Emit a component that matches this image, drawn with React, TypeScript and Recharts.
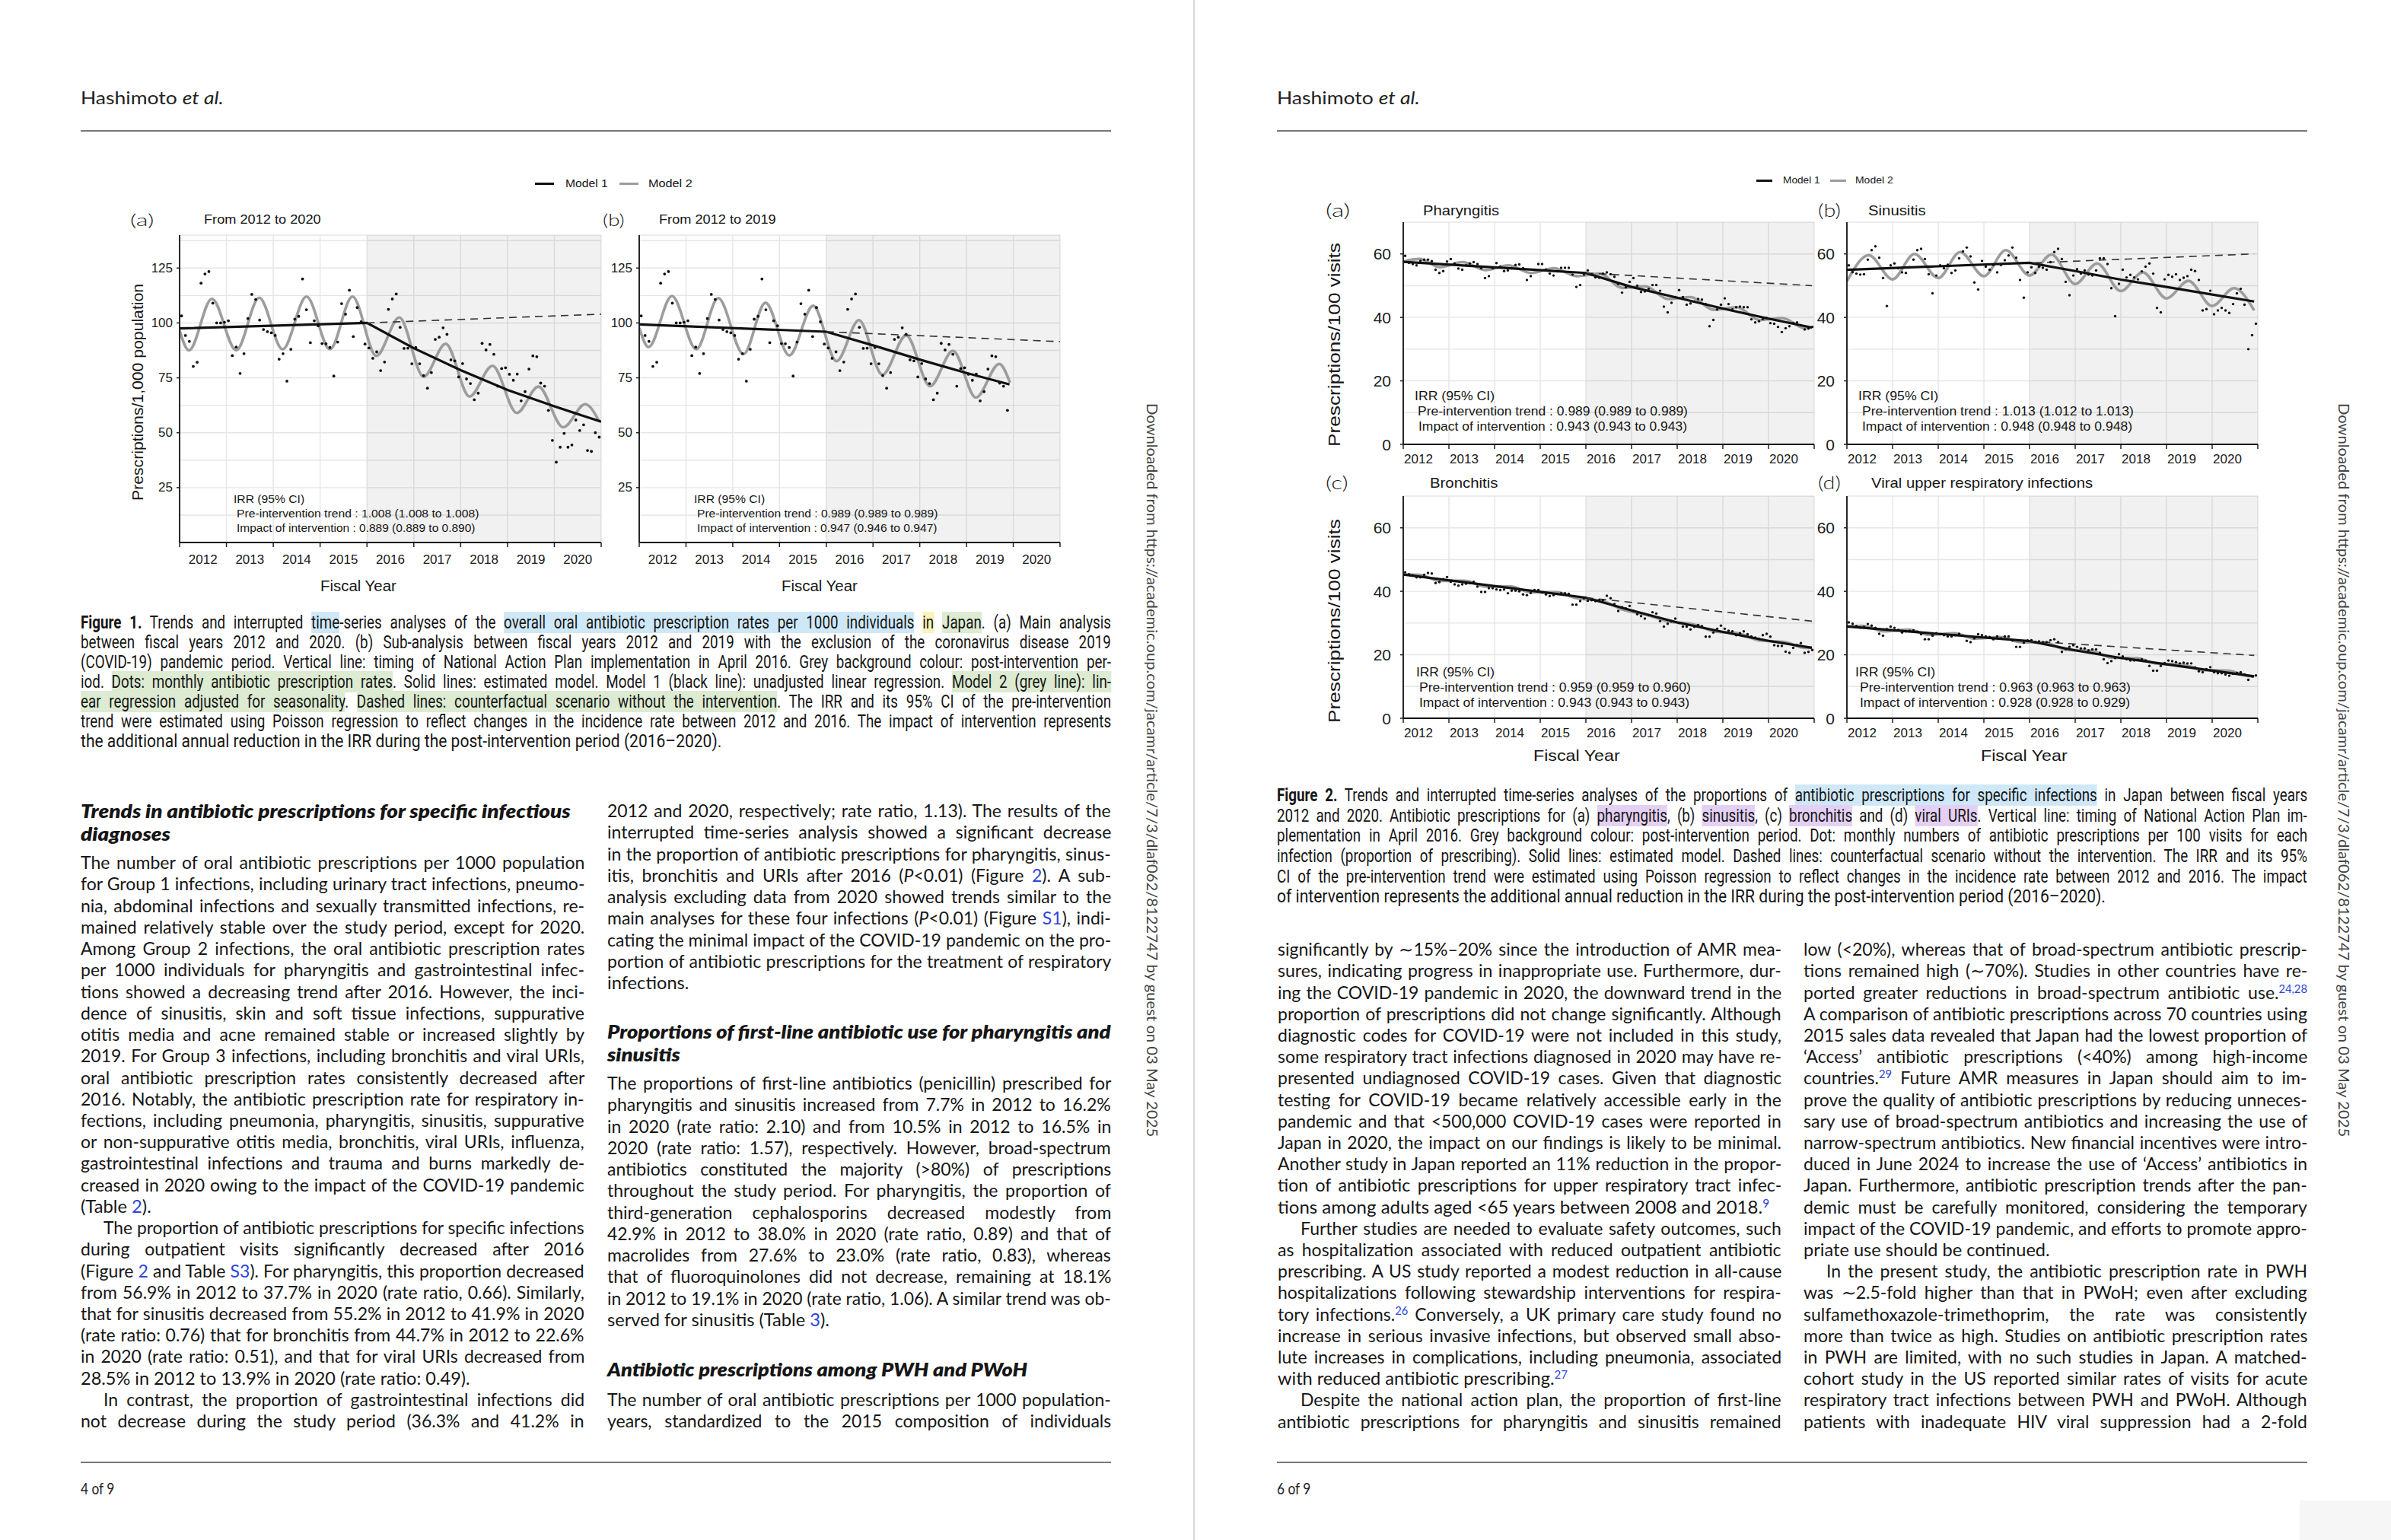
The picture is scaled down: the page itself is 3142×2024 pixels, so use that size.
import React, { useLayoutEffect, useRef, useState } from 'react';
import { ComposedChart, Scatter, Line, XAxis, YAxis, CartesianGrid, ReferenceArea } from 'recharts';

// ---- data ----
const yearTicks = [2012, 2013, 2014, 2015, 2016, 2017, 2018, 2019, 2020, 2021];
const rateTicks = [0, 12.5, 25, 37.5, 50, 62.5, 75, 87.5, 100, 112.5, 125, 137.5];
const rateLabels = [25, 50, 75, 100, 125];
const pctTicks = [0, 10, 20, 30, 40, 50, 60, 70];
const pctLabels = [0, 20, 40, 60];

// Figure 1: monthly oral antibiotic prescriptions per 1000 population (FY2012 Apr .. FY2020 Mar)
const overallRate = [
  103.2, 94.3, 91.6, 80.2, 82.1, 118.1, 122.3, 123.4, 109, 100, 100, 100.3,
  101, 85.1, 89, 77, 86, 102, 113, 110.7, 101.3, 97, 96, 95.5,
  94.3, 83.5, 86, 73.5, 88, 101.7, 103, 120, 106, 91, 101, 98.7,
  90.6, 90.5, 88.8, 75.8, 91.3, 108.8, 104, 114.9, 93.8, 107, 100.5, 90.4,
  88.6, 83.9, 86.8, 78.3, 82.2, 106.2, 110.9, 113.2, 98, 88.4, 88.5, 81.4,
  88.8, 81.4, 76, 70.3, 77.4, 92.5, 93.5, 97.8, 94.8, 83.2, 82.7, 75.4,
  81.5, 74.5, 72.4, 65, 68, 90.7, 87.7, 90.2, 85.7, 71.2, 79.2, 79.6,
  76.6, 73.9, 76.7, 64.5, 68.7, 79, 85, 84.6, 72.6, 71.2, 60.2, 46.5,
  36.6, 43.4, 49.7, 43.4, 44.4, 55.8, 51, 53.6, 41.9, 41.5, 50, 48,
];
const mainModel1 = [[2012, 97.5], [2016, 100], [2017, 88.5], [2018, 78.5], [2019, 69.5], [2020, 62], [2021, 55]];
const mainCounterfactual = [[2016, 100], [2021, 104]];
const mainModel2 = [
  [2012.0, 96.5], [2012.2, 87.5], [2012.69, 111], [2013.21, 87.5], [2013.7, 111.5], [2014.2, 88], [2014.71, 112],
  [2015.21, 88], [2015.69, 112], [2016.2, 85], [2016.69, 102.5], [2017.21, 75.5], [2017.68, 90.5], [2018.19, 66.5],
  [2018.68, 80.5], [2019.2, 59], [2019.66, 71], [2020.19, 52.5], [2020.66, 63], [2020.95, 55.5],
];
const subModel1 = [[2012, 99.3], [2016, 96], [2017, 89.8], [2018, 83.3], [2019, 77.2], [2019.92, 72]];
const subCounterfactual = [[2016, 96], [2021, 91.5]];
const subModel2 = [
  [2012.0, 97.8], [2012.2, 89], [2012.7, 112.3], [2013.22, 88], [2013.69, 111.3], [2014.23, 85.8], [2014.7, 109.2],
  [2015.21, 85.2], [2015.72, 107.8], [2016.22, 82.6], [2016.7, 101.3], [2017.2, 76.4], [2017.71, 94.3], [2018.22, 71.2],
  [2018.71, 87.3], [2019.2, 66], [2019.7, 81.3], [2019.93, 72.8],
];

// Figure 2: prescriptions per 100 visits
const pharyngitisPct = [
  59.4, 57.2, 56.8, 56.4, 57.8, 58.2, 58.2, 57.7, 55, 54, 54.6, 57.6,
  58.4, 57, 55.4, 55, 56.4, 57, 57.4, 56.8, 55.5, 52.4, 53, 55.5,
  57.1, 56, 54.6, 54.8, 55.5, 56.5, 56.7, 55.5, 51.8, 53, 55, 56.8,
  56.8, 55, 53.8, 53.2, 54.5, 55.6, 55.6, 55.6, 53.5, 49.6, 50.2, 53.5,
  54.8, 53.5, 52.6, 52.5, 53.8, 54.2, 53.6, 52.8, 50.5, 47.8, 49.5, 51.2,
  52.4, 50, 48, 48.2, 49, 50.2, 50.2, 48.4, 43.4, 41.6, 44.6, 46.4,
  48.6, 46.4, 44, 44.4, 45, 45.8, 45.6, 44.2, 37.2, 39.2, 42.5, 44,
  46, 44.2, 42.5, 43.2, 43.4, 43.2, 43.2, 39.4, 38.4, 38.8, 39.5, 39.8,
  38.2, 38, 37, 35.4, 36.6, 37.2, 38.2, 38.4, 37.5, 36.2, 36.5, 37,
];
const pharyngitisModel1 = [[2012, 57.5], [2016, 54], [2017, 49.6], [2018, 46.2], [2019, 42.8], [2020, 39.6], [2020.95, 36.8]];
const pharyngitisCf = [[2016, 54], [2020.95, 50]];
const pharyngitisModel2 = [
  [2012.0, 57.6], [2012.35, 58.4], [2012.8, 55.8], [2013.3, 57.4], [2013.8, 54.9], [2014.3, 56.4], [2014.8, 54],
  [2015.3, 55.5], [2015.8, 53], [2016.3, 53.8], [2016.8, 49.3], [2017.3, 49.8], [2017.8, 45.8], [2018.3, 46.4],
  [2018.8, 42.4], [2019.3, 43.2], [2019.8, 39.2], [2020.3, 39.8], [2020.8, 36.6], [2020.95, 37],
];

const sinusitisPct = [
  56.4, 54.3, 53.8, 53.5, 53.6, 58.2, 61.2, 62.4, 58.8, 52.4, 43.6, 56.4,
  57, 55.5, 54.2, 54, 55.8, 58.2, 61.2, 61.6, 58.4, 53.6, 47.6, 53.2,
  56.4, 55.5, 56.6, 54, 54.8, 58.6, 60.8, 62, 59.2, 51, 48.8, 57.8,
  56, 55, 56.5, 54.2, 56.5, 58, 59.5, 62, 58.8, 51.8, 46.2, 54.2,
  55.8, 54, 56, 55.6, 55, 57.4, 60.6, 61.6, 58.4, 51.2, 47, 53.2,
  55.2, 53.8, 54.8, 53.5, 53.2, 54.8, 58.6, 58.6, 56.8, 49.2, 40.4, 50.6,
  55, 52.6, 53.4, 52.6, 52, 54.5, 56, 57, 53.8, 43, 41.6, 52,
  53.4, 52.8, 53.6, 51.8, 52.5, 53, 55, 54.6, 51.8, 42.2, 42.6, 48.4,
  41, 42.2, 43, 42.2, 41.4, 44.2, 47.6, 49, 44, 30, 34.4, 38,
];
const sinusitisModel1 = [[2012, 55], [2016, 57.2], [2017, 54.6], [2018, 51.9], [2019, 49.6], [2020, 47.2], [2020.92, 45]];
const sinusitisCf = [[2016.1, 57.2], [2020.92, 60]];
const sinusitisModel2 = [
  [2012.0, 51.4], [2012.48, 59.6], [2013.0, 52], [2013.48, 60], [2014.0, 52.4], [2014.48, 60.6], [2015.0, 53],
  [2015.48, 61.2], [2016.0, 53.2], [2016.48, 59.8], [2017.0, 50.5], [2017.48, 57], [2018.0, 48.3], [2018.48, 54.2],
  [2019.0, 46], [2019.48, 51.5], [2020.0, 43.6], [2020.48, 49.2], [2020.92, 42.2],
];

const bronchitisPct = [
  46, 45.4, 45, 44.4, 44.4, 45.2, 45.8, 45.6, 42.6, 42.9, 43.8, 44.5,
  43, 42.2, 41.8, 42.2, 42.4, 42.6, 43, 41.5, 39.8, 39.8, 41, 41,
  40.6, 40.4, 40.6, 39.4, 40.2, 40.2, 40, 39, 38.8, 39.5, 40.4, 40.4,
  39.6, 39, 38.5, 38.8, 39.2, 39.4, 39.4, 39.2, 35.8, 35.8, 36.9, 37.8,
  37, 37.2, 36.9, 37.2, 37.2, 38.6, 37.8, 36, 33.8, 35, 34.6, 35.4,
  33.8, 32.8, 32.2, 31.4, 32.5, 33.4, 33, 30.6, 28.9, 29.8, 30.5, 31.4,
  30, 28.9, 28.9, 28, 28.8, 29.4, 29, 25.7, 25.7, 27, 28.2, 29.2,
  28.2, 27.6, 27.4, 26.2, 26.8, 27.4, 26.5, 25.8, 25.4, 25, 26.2, 26.6,
  25.7, 23, 22.8, 22.8, 21, 20.6, 22.2, 23, 23.7, 20.6, 20.9, 21.5,
];
const bronchitisModel1 = [[2012, 45.3], [2016, 38], [2017, 34], [2018, 30.2], [2019, 27.2], [2020, 24.4], [2020.95, 22.2]];
const bronchitisCf = [[2016, 38], [2020.95, 30.6]];
const bronchitisModel2 = [
  [2012.0, 45.3], [2012.35, 45.2], [2012.8, 43.3], [2013.35, 43.3], [2013.8, 41.5], [2014.35, 41.5], [2014.8, 39.7],
  [2015.35, 39.7], [2015.8, 37.8], [2016.35, 37], [2016.8, 34.3], [2017.35, 32.5], [2017.8, 30.5], [2018.35, 29.6],
  [2018.8, 27.4], [2019.35, 26.7], [2019.8, 24.5], [2020.35, 24], [2020.8, 22.2], [2020.95, 22.2],
];

const viralUriPct = [
  30.2, 29.8, 29, 28.6, 28.8, 29.7, 29.2, 28.5, 26.6, 26, 28.1, 28.9,
  28.5, 27.8, 27, 27.4, 27.5, 27.7, 27.3, 26.5, 24.9, 24.9, 26, 26.8,
  26.5, 26.2, 25.8, 25.8, 26.2, 26.6, 26, 24.4, 24, 25.2, 26.5, 26.2,
  25.8, 25.6, 24.9, 25.8, 25.2, 25.8, 25.8, 24.5, 22.5, 22.5, 23.8, 24.5,
  24.6, 24, 24.2, 24, 24, 24.6, 24.9, 24, 20.9, 21.8, 22.5, 23,
  22.5, 22, 22, 21.4, 21.7, 21.7, 20.6, 18.6, 17.4, 18, 19, 20.2,
  19.5, 18.6, 18.2, 18.2, 18.4, 18.6, 18.2, 16.5, 15, 15, 16.5, 17.4,
  18.2, 18, 17.7, 17.3, 17.5, 17.3, 17.3, 16, 14.8, 14.5, 15.5, 16.1,
  14.5, 14.2, 14.2, 13.8, 13.4, 14, 14.3, 14.5, 13.8, 12.1, 13.2, 13.5,
];
const viralUriModel1 = [[2012, 28.9], [2016, 24.3], [2017, 21.4], [2018, 19], [2019, 17], [2020, 15], [2020.92, 13.2]];
const viralUriCf = [[2016, 24.3], [2020.92, 19.8]];
const viralUriModel2 = [
  [2012.0, 28.9], [2012.35, 29.1], [2012.8, 27.4], [2013.35, 27.9], [2013.8, 26.3], [2014.35, 26.8], [2014.8, 25.1],
  [2015.35, 25.6], [2015.8, 24], [2016.35, 23.8], [2016.8, 21.6], [2017.35, 21.2], [2017.8, 19.1], [2018.35, 18.9],
  [2018.8, 17.2], [2019.35, 16.9], [2019.8, 15.2], [2020.35, 15], [2020.8, 13.3], [2020.92, 13.2],
];

// ---- helpers ----
type Pt = { x: number; y: number };
const pts = (pairs: number[][]): Pt[] => pairs.map(([x, y]) => ({ x, y }));
const monthly = (vals: number[]): Pt[] => vals.map((y, i) => ({ x: 2012 + (i + 0.5) / 12, y }));

const BODY = "Lato, 'Open Sans', sans-serif";
const CAP = "Roboto, Lato, sans-serif";
const CHART = "'Liberation Sans', Arial, sans-serif";
const LINK = '#2a45dc';
const HL: Record<string, string> = { b: '#cfe8f7', y: '#fbf3b8', g: '#dcebd1', p: '#e4d0f4' };

function rich(s: string) {
  const parts = s.split(/(\*\*[^*]+\*\*|\{[^}]+\}|\^[^^]+\^|\|[^|]+\||\[[bygp]:[^\]]+\])/g);
  return parts.filter(Boolean).map((p, i) => {
    if (p.startsWith('**')) return <b key={i}>{p.slice(2, -2)}</b>;
    if (p.startsWith('{')) return <span key={i} style={{ color: LINK }}>{p.slice(1, -1)}</span>;
    if (p.startsWith('^')) return <span key={i} style={{ color: LINK, fontSize: '0.64em', position: 'relative', top: '-0.55em' }}>{p.slice(1, -1)}</span>;
    if (p.startsWith('|')) return <i key={i}>{p.slice(1, -1)}</i>;
    if (p.startsWith('[')) return <span key={i} style={{ background: HL[p[1]] }}>{p.slice(3, -1)}</span>;
    return <React.Fragment key={i}>{p}</React.Fragment>;
  });
}

type TL = {
  t: string; x: number; y: number; w?: number; mode?: 'j' | 'fit' | 'free';
  size: number; font: string; weight?: number; italic?: boolean; cond?: number; color?: string;
};

function TextLine({ l }: { l: TL }) {
  const ref = useRef<HTMLSpanElement>(null);
  const [adj, setAdj] = useState({ ws: 0, sx: 1 });
  useLayoutEffect(() => {
    const el = ref.current;
    if (!el) return;
    const nat = el.offsetWidth;
    if (!nat) return;
    const spaces = (el.textContent || '').split(' ').length - 1;
    const c = l.cond ?? 1;
    const w = l.w ?? nat * c;
    let ws = 0;
    let sx = c;
    if (l.mode === 'fit') sx = w / nat;
    else if (l.mode === 'j') {
      if (nat * c <= w && spaces > 0) ws = (w / c - nat) / spaces;
      else sx = w / nat;
    } else if (nat * c > w) sx = w / nat;
    setAdj({ ws, sx });
  }, [l.t, l.w]);
  return (
    <div
      style={{
        position: 'absolute', left: l.x, top: l.y - l.size * 0.6, height: l.size * 1.2,
        lineHeight: `${l.size * 1.2}px`, whiteSpace: 'nowrap', fontSize: l.size, fontFamily: l.font,
        fontWeight: l.weight ?? 400, fontStyle: l.italic ? 'italic' : 'normal', color: l.color ?? '#161616',
        transform: `scaleX(${adj.sx})`, transformOrigin: 'left center',
      }}
    >
      <span ref={ref} style={{ display: 'inline-block', wordSpacing: adj.ws }}>{rich(l.t)}</span>
    </div>
  );
}

function Rot({ cx, cy, deg, len, l }: { cx: number; cy: number; deg: number; len: number; l: Omit<TL, 'x' | 'y'> }) {
  return (
    <div style={{ position: 'absolute', left: cx, top: cy, transform: `rotate(${deg}deg)`, transformOrigin: '0 0' }}>
      <TextLine l={{ ...l, x: -len / 2, y: 0, w: len, mode: 'fit' } as TL} />
    </div>
  );
}

function para(lines: (string | [string, number])[], x: number, y0: number, lh: number, w: number, base: Partial<TL>): TL[] {
  return lines.map((ln, i) => {
    const fixed = Array.isArray(ln);
    let t = fixed ? (ln as [string, number])[0] : (ln as string);
    let dx = 0;
    if (t.startsWith('»')) { t = t.slice(1); dx = 30; }
    return { ...base, t, x: x + dx, y: y0 + i * lh, w: fixed ? (ln as [string, number])[1] : w - dx, mode: fixed ? 'fit' : 'j' } as TL;
  });
}

type PanelProps = {
  px: number; py: number; pw: number; ph: number; yMax: number; yTicks: number[]; yLabels: number[];
  dots: Pt[]; m1: Pt[]; m2: Pt[]; cf: Pt[]; xFs: number; yFs: number; xDx: number; xDy: number; yGap: number; r: number;
};

function Panel(p: PanelProps) {
  const YW = 70, MR = 6, MT = 4, XH = 46;
  const half = p.pw / 18;
  const axisY = MT + p.ph;
  const XTick = (t: any) => {
    const v = t.payload.value;
    if (v >= 2021) return <g />;
    return (
      <text x={t.x + half + p.xDx} y={axisY + p.xDy} textAnchor="middle" dominantBaseline="central"
        fontSize={p.xFs} fontFamily={CHART} fill="#1a1a1a">{v}</text>
    );
  };
  const YTick = (t: any) => {
    const v = t.payload.value;
    if (!p.yLabels.includes(v)) return <g />;
    return (
      <g>
        <line x1={YW - 4} x2={YW} y1={t.y} y2={t.y} stroke="#222" strokeWidth={1.5} />
        <text x={YW - p.yGap} y={t.y} textAnchor="end" dominantBaseline="central" fontSize={p.yFs}
          fontFamily={CHART} fill="#1a1a1a">{v}</text>
      </g>
    );
  };
  return (
    <div style={{ position: 'absolute', left: p.px - YW, top: p.py - MT }}>
      <ComposedChart width={YW + p.pw + MR} height={MT + p.ph + XH} margin={{ top: MT, right: MR, bottom: 0, left: 0 }}>
        <CartesianGrid stroke="#e6e6e6" strokeWidth={1.4} />
        <ReferenceArea x1={2016} x2={2021} y1={0} y2={p.yMax} fill="#000" fillOpacity={0.055} stroke="none" ifOverflow="hidden" />
        <XAxis type="number" dataKey="x" domain={[2012, 2021]} ticks={yearTicks} interval={0} height={XH}
          tick={XTick} tickSize={6} tickLine={{ stroke: '#222', strokeWidth: 1.5 }}
          axisLine={{ stroke: '#111', strokeWidth: 1.8 }} allowDataOverflow />
        <YAxis type="number" dataKey="y" domain={[0, p.yMax]} ticks={p.yTicks} interval={0} width={YW}
          tick={YTick} tickLine={false} axisLine={{ stroke: '#111', strokeWidth: 1.8 }} allowDataOverflow />
        <Scatter data={p.dots} isAnimationActive={false}
          shape={(s: any) => <circle cx={s.cx} cy={s.cy} r={p.r} fill="#111" />} />
        <Line data={p.m2} dataKey="y" type="monotone" stroke="#9d9d9d" strokeWidth={3.6} dot={false} activeDot={false} isAnimationActive={false} />
        <Line data={p.m1} dataKey="y" type="linear" stroke="#111" strokeWidth={3.2} dot={false} activeDot={false} isAnimationActive={false} />
        <Line data={p.cf} dataKey="y" type="linear" stroke="#333" strokeWidth={1.6} strokeDasharray="10 7" dot={false} activeDot={false} isAnimationActive={false} />
      </ComposedChart>
    </div>
  );
}

// ---- page text ----
const cap1 = [
  '**Figure 1.** Trends and interrupted [b:time]-series analyses of the [b:overall oral antibiotic prescription rates per 1000 individuals] [y:in] [g:Japan]. (a) Main analysis',
  'between fiscal years 2012 and 2020. (b) Sub-analysis between fiscal years 2012 and 2019 with the exclusion of the coronavirus disease 2019',
  '(COVID-19) pandemic period. Vertical line: timing of National Action Plan implementation in April 2016. Grey background colour: post-intervention per-',
  'iod. [g:Dots: monthly antibiotic prescription rates]. Solid lines: estimated model. Model 1 (black line): unadjusted linear regression. [g:Model 2 (grey line): lin-]',
  '[g:ear regression adjusted for seasonality]. [g:Dashed lines: counterfactual scenario without the intervention]. The IRR and its 95% CI of the pre-intervention',
  'trend were estimated using Poisson regression to reflect changes in the incidence rate between 2012 and 2016. The impact of intervention represents',
  ['the additional annual reduction in the IRR during the post-intervention period (2016–2020).', 842] as [string, number],
];
const cap2 = [
  '**Figure 2.** Trends and interrupted time-series analyses of the proportions of [b:antibiotic prescriptions for specific infections] in Japan between fiscal years',
  '2012 and 2020. Antibiotic prescriptions for (a) [p:pharyngitis], (b) [p:sinusitis], (c) [p:bronchitis] and (d) [p:viral URIs]. Vertical line: timing of National Action Plan im-',
  'plementation in April 2016. Grey background colour: post-intervention period. Dot: monthly numbers of antibiotic prescriptions per 100 visits for each',
  'infection (proportion of prescribing). Solid lines: estimated model. Dashed lines: counterfactual scenario without the intervention. The IRR and its 95%',
  'CI of the pre-intervention trend were estimated using Poisson regression to reflect changes in the incidence rate between 2012 and 2016. The impact',
  ['of intervention represents the additional annual reduction in the IRR during the post-intervention period (2016–2020).', 1089] as [string, number],
];
const leftCol1 = [
  'The number of oral antibiotic prescriptions per 1000 population',
  'for Group 1 infections, including urinary tract infections, pneumo-',
  'nia, abdominal infections and sexually transmitted infections, re-',
  'mained relatively stable over the study period, except for 2020.',
  'Among Group 2 infections, the oral antibiotic prescription rates',
  'per 1000 individuals for pharyngitis and gastrointestinal infec-',
  'tions showed a decreasing trend after 2016. However, the inci-',
  'dence of sinusitis, skin and soft tissue infections, suppurative',
  'otitis media and acne remained stable or increased slightly by',
  '2019. For Group 3 infections, including bronchitis and viral URIs,',
  'oral antibiotic prescription rates consistently decreased after',
  '2016. Notably, the antibiotic prescription rate for respiratory in-',
  'fections, including pneumonia, pharyngitis, sinusitis, suppurative',
  'or non-suppurative otitis media, bronchitis, viral URIs, influenza,',
  'gastrointestinal infections and trauma and burns markedly de-',
  'creased in 2020 owing to the impact of the COVID-19 pandemic',
  ['(Table {2}).', 93] as [string, number],
  '»The proportion of antibiotic prescriptions for specific infections',
  'during outpatient visits significantly decreased after 2016',
  '(Figure {2} and Table {S3}). For pharyngitis, this proportion decreased',
  'from 56.9% in 2012 to 37.7% in 2020 (rate ratio, 0.66). Similarly,',
  'that for sinusitis decreased from 55.2% in 2012 to 41.9% in 2020',
  '(rate ratio: 0.76) that for bronchitis from 44.7% in 2012 to 22.6%',
  'in 2020 (rate ratio: 0.51), and that for viral URIs decreased from',
  ['28.5% in 2012 to 13.9% in 2020 (rate ratio: 0.49).', 512] as [string, number],
  '»In contrast, the proportion of gastrointestinal infections did',
  'not decrease during the study period (36.3% and 41.2% in',
];
const leftCol2a = [
  '2012 and 2020, respectively; rate ratio, 1.13). The results of the',
  'interrupted time-series analysis showed a significant decrease',
  'in the proportion of antibiotic prescriptions for pharyngitis, sinus-',
  'itis, bronchitis and URIs after 2016 (|P|<0.01) (Figure {2}). A sub-',
  'analysis excluding data from 2020 showed trends similar to the',
  'main analyses for these four infections (|P|<0.01) (Figure {S1}), indi-',
  'cating the minimal impact of the COVID-19 pandemic on the pro-',
  'portion of antibiotic prescriptions for the treatment of respiratory',
  ['infections.', 107] as [string, number],
];
const leftCol2b = [
  'The proportions of first-line antibiotics (penicillin) prescribed for',
  'pharyngitis and sinusitis increased from 7.7% in 2012 to 16.2%',
  'in 2020 (rate ratio: 2.10) and from 10.5% in 2012 to 16.5% in',
  '2020 (rate ratio: 1.57), respectively. However, broad-spectrum',
  'antibiotics constituted the majority (>80%) of prescriptions',
  'throughout the study period. For pharyngitis, the proportion of',
  'third-generation cephalosporins decreased modestly from',
  '42.9% in 2012 to 38.0% in 2020 (rate ratio, 0.89) and that of',
  'macrolides from 27.6% to 23.0% (rate ratio, 0.83), whereas',
  'that of fluoroquinolones did not decrease, remaining at 18.1%',
  'in 2012 to 19.1% in 2020 (rate ratio, 1.06). A similar trend was ob-',
  ['served for sinusitis (Table {3}).', 292] as [string, number],
];
const leftCol2c = [
  'The number of oral antibiotic prescriptions per 1000 population-',
  'years, standardized to the 2015 composition of individuals',
];
const rightCol1 = [
  'significantly by ∼15%–20% since the introduction of AMR mea-',
  'sures, indicating progress in inappropriate use. Furthermore, dur-',
  'ing the COVID-19 pandemic in 2020, the downward trend in the',
  'proportion of prescriptions did not change significantly. Although',
  'diagnostic codes for COVID-19 were not included in this study,',
  'some respiratory tract infections diagnosed in 2020 may have re-',
  'presented undiagnosed COVID-19 cases. Given that diagnostic',
  'testing for COVID-19 became relatively accessible early in the',
  'pandemic and that <500,000 COVID-19 cases were reported in',
  'Japan in 2020, the impact on our findings is likely to be minimal.',
  'Another study in Japan reported an 11% reduction in the propor-',
  'tion of antibiotic prescriptions for upper respiratory tract infec-',
  ['tions among adults aged <65 years between 2008 and 2018.^9^', 646] as [string, number],
  '»Further studies are needed to evaluate safety outcomes, such',
  'as hospitalization associated with reduced outpatient antibiotic',
  'prescribing. A US study reported a modest reduction in all-cause',
  'hospitalizations following stewardship interventions for respira-',
  'tory infections.^26^ Conversely, a UK primary care study found no',
  'increase in serious invasive infections, but observed small abso-',
  'lute increases in complications, including pneumonia, associated',
  ['with reduced antibiotic prescribing.^27^', 381] as [string, number],
  '»Despite the national action plan, the proportion of first-line',
  'antibiotic prescriptions for pharyngitis and sinusitis remained',
];
const rightCol2 = [
  'low (<20%), whereas that of broad-spectrum antibiotic prescrip-',
  'tions remained high (∼70%). Studies in other countries have re-',
  'ported greater reductions in broad-spectrum antibiotic use.^24,28^',
  'A comparison of antibiotic prescriptions across 70 countries using',
  '2015 sales data revealed that Japan had the lowest proportion of',
  '‘Access’ antibiotic prescriptions (<40%) among high-income',
  'countries.^29^ Future AMR measures in Japan should aim to im-',
  'prove the quality of antibiotic prescriptions by reducing unneces-',
  'sary use of broad-spectrum antibiotics and increasing the use of',
  'narrow-spectrum antibiotics. New financial incentives were intro-',
  'duced in June 2024 to increase the use of ‘Access’ antibiotics in',
  'Japan. Furthermore, antibiotic prescription trends after the pan-',
  'demic must be carefully monitored, considering the temporary',
  'impact of the COVID-19 pandemic, and efforts to promote appro-',
  ['priate use should be continued.', 324] as [string, number],
  '»In the present study, the antibiotic prescription rate in PWH',
  'was ∼2.5-fold higher than that in PWoH; even after excluding',
  'sulfamethoxazole-trimethoprim, the rate was consistently',
  'more than twice as high. Studies on antibiotic prescription rates',
  'in PWH are limited, with no such studies in Japan. A matched-',
  'cohort study in the US reported similar rates of visits for acute',
  'respiratory tract infections between PWH and PWoH. Although',
  'patients with inadequate HIV viral suppression had a 2-fold',
];

const body = { size: 23, font: BODY };
const caption = { size: 23.5, font: CAP, cond: 0.8 };
const head = { size: 23.5, font: BODY, weight: 800, italic: true };
const ct = { font: CHART };

const texts: TL[] = [
  { t: 'Hashimoto |et al.|', x: 106, y: 128, w: 188, mode: 'fit', size: 24, font: BODY, color: '#222' },
  { t: 'Hashimoto |et al.|', x: 1678, y: 128, w: 188, mode: 'fit', size: 24, font: BODY, color: '#222' },
  { t: '4 of 9', x: 106, y: 1956, w: 44, mode: 'fit', size: 22, font: BODY, color: '#222' },
  { t: '6 of 9', x: 1678, y: 1956, w: 44, mode: 'fit', size: 22, font: BODY, color: '#222' },
  ...para(cap1, 106, 818, 26, 1354, caption),
  ...para(cap2, 1678, 1045, 26.7, 1354, caption),
  { t: 'Trends in antibiotic prescriptions for specific infectious', x: 106, y: 1066, w: 644, mode: 'fit', ...head },
  { t: 'diagnoses', x: 106, y: 1096, w: 118, mode: 'fit', ...head },
  ...para(leftCol1, 106, 1134, 28.23, 662, body),
  ...para(leftCol2a, 798, 1066, 28.23, 662, body),
  { t: 'Proportions of first-line antibiotic use for pharyngitis and', x: 798, y: 1356, w: 662, mode: 'fit', ...head },
  { t: 'sinusitis', x: 798, y: 1386, w: 96, mode: 'fit', ...head },
  ...para(leftCol2b, 798, 1424, 28.23, 662, body),
  { t: 'Antibiotic prescriptions among PWH and PWoH', x: 798, y: 1800, w: 552, mode: 'fit', ...head },
  ...para(leftCol2c, 798, 1840, 28.23, 662, body),
  ...para(rightCol1, 1679, 1248, 28.2, 662, body),
  ...para(rightCol2, 2370, 1248, 28.2, 662, body),

  // figure 1 annotations
  { t: 'Model 1', x: 743, y: 241, w: 56, mode: 'fit', size: 14, ...ct },
  { t: 'Model 2', x: 852, y: 241, w: 58, mode: 'fit', size: 14, ...ct },
  { t: '(a)', x: 171, y: 289, w: 31, mode: 'fit', size: 22, font: BODY, weight: 300 },
  { t: 'From 2012 to 2020', x: 268, y: 289, w: 154, mode: 'fit', size: 17, ...ct },
  { t: '(b)', x: 792, y: 289, w: 29, mode: 'fit', size: 22, font: BODY, weight: 300 },
  { t: 'From 2012 to 2019', x: 866, y: 289, w: 154, mode: 'fit', size: 17, ...ct },
  { t: 'IRR (95% CI)', x: 307, y: 656, w: 93, mode: 'fit', size: 15, ...ct },
  { t: 'Pre-intervention trend : 1.008 (1.008 to 1.008)', x: 311, y: 675, w: 318, mode: 'fit', size: 15, ...ct },
  { t: 'Impact of intervention : 0.889 (0.889 to 0.890)', x: 311, y: 694, w: 314, mode: 'fit', size: 15, ...ct },
  { t: 'IRR (95% CI)', x: 912, y: 656, w: 93, mode: 'fit', size: 15, ...ct },
  { t: 'Pre-intervention trend : 0.989 (0.989 to 0.989)', x: 916, y: 675, w: 316, mode: 'fit', size: 15, ...ct },
  { t: 'Impact of intervention : 0.947 (0.946 to 0.947)', x: 916, y: 694, w: 316, mode: 'fit', size: 15, ...ct },
  { t: 'Fiscal Year', x: 421, y: 770, w: 100, mode: 'fit', size: 20, ...ct },
  { t: 'Fiscal Year', x: 1027, y: 770, w: 100, mode: 'fit', size: 20, ...ct },

  // figure 2 annotations
  { t: 'Model 1', x: 2343, y: 237, w: 49, mode: 'fit', size: 12, ...ct },
  { t: 'Model 2', x: 2438, y: 237, w: 50, mode: 'fit', size: 12, ...ct },
  { t: '(a)', x: 1742, y: 277, w: 32, mode: 'fit', size: 23, font: BODY, weight: 300 },
  { t: 'Pharyngitis', x: 1870, y: 277, w: 100, mode: 'fit', size: 19, ...ct },
  { t: '(b)', x: 2389, y: 277, w: 30, mode: 'fit', size: 23, font: BODY, weight: 300 },
  { t: 'Sinusitis', x: 2455, y: 277, w: 76, mode: 'fit', size: 19, ...ct },
  { t: '(c)', x: 1742, y: 635, w: 30, mode: 'fit', size: 23, font: BODY, weight: 300 },
  { t: 'Bronchitis', x: 1879, y: 635, w: 89, mode: 'fit', size: 19, ...ct },
  { t: '(d)', x: 2389, y: 635, w: 30, mode: 'fit', size: 23, font: BODY, weight: 300 },
  { t: 'Viral upper respiratory infections', x: 2459, y: 635, w: 291, mode: 'fit', size: 19, ...ct },
  { t: 'IRR (95% CI)', x: 1859, y: 521, w: 105, mode: 'fit', size: 17, ...ct },
  { t: 'Pre-intervention trend : 0.989 (0.989 to 0.989)', x: 1863, y: 541, w: 355, mode: 'fit', size: 17, ...ct },
  { t: 'Impact of intervention : 0.943 (0.943 to 0.943)', x: 1864, y: 561, w: 353, mode: 'fit', size: 17, ...ct },
  { t: 'IRR (95% CI)', x: 2442, y: 521, w: 105, mode: 'fit', size: 17, ...ct },
  { t: 'Pre-intervention trend : 1.013 (1.012 to 1.013)', x: 2447, y: 541, w: 357, mode: 'fit', size: 17, ...ct },
  { t: 'Impact of intervention : 0.948 (0.948 to 0.948)', x: 2447, y: 561, w: 355, mode: 'fit', size: 17, ...ct },
  { t: 'IRR (95% CI)', x: 1861, y: 884, w: 103, mode: 'fit', size: 17, ...ct },
  { t: 'Pre-intervention trend : 0.959 (0.959 to 0.960)', x: 1865, y: 904, w: 357, mode: 'fit', size: 17, ...ct },
  { t: 'Impact of intervention : 0.943 (0.943 to 0.943)', x: 1865, y: 924, w: 355, mode: 'fit', size: 17, ...ct },
  { t: 'IRR (95% CI)', x: 2438, y: 884, w: 105, mode: 'fit', size: 17, ...ct },
  { t: 'Pre-intervention trend : 0.963 (0.963 to 0.963)', x: 2444, y: 904, w: 356, mode: 'fit', size: 17, ...ct },
  { t: 'Impact of intervention : 0.928 (0.928 to 0.929)', x: 2444, y: 924, w: 355, mode: 'fit', size: 17, ...ct },
  { t: 'Fiscal Year', x: 2015, y: 993, w: 114, mode: 'fit', size: 21, ...ct },
  { t: 'Fiscal Year', x: 2603, y: 993, w: 114, mode: 'fit', size: 21, ...ct },
];

const rule = (left: number, top: number, width: number) => (
  <div style={{ position: 'absolute', left, top, width, height: 1.6, background: '#777' }} />
);
const legendLine = (left: number, top: number, width: number, color: string, h: number) => (
  <div style={{ position: 'absolute', left, top: top - h / 2, width, height: h, background: color }} />
);

export default function App() {
  const f1 = { pw: 554, ph: 404, yMax: 140, yTicks: rateTicks, yLabels: rateLabels, xFs: 17, yFs: 17, xDx: 0, xDy: 22, yGap: 9, r: 1.9 };
  const f2 = { pw: 540, ph: 292, yMax: 70, yTicks: pctTicks, yLabels: pctLabels, xFs: 17, yFs: 21, xDx: -10, xDy: 19, yGap: 16, r: 1.7 };
  const dl = 'Downloaded from https://academic.oup.com/jacamr/article/7/3/dlaf062/8122747 by guest on 03 May 2025';
  return (
    <div style={{ position: 'absolute', left: 0, top: 0, width: 3142, height: 2024, background: '#fff', overflow: 'hidden' }}>
      <div style={{ position: 'absolute', left: 1568, top: 0, width: 2, height: 2024, background: '#d9d9d9' }} />
      <div style={{ position: 'absolute', left: 3022, top: 1972, width: 120, height: 52, background: '#f6f6f6' }} />
      {rule(106, 171, 1354)}
      {rule(1678, 171, 1354)}
      {rule(106, 1921, 1354)}
      {rule(1678, 1921, 1354)}

      <Panel px={236} py={309} {...f1} dots={monthly(overallRate)} m1={pts(mainModel1)} m2={pts(mainModel2)} cf={pts(mainCounterfactual)} />
      <Panel px={840} py={309} {...f1} pw={553} dots={monthly(overallRate).slice(0, 95)} m1={pts(subModel1)} m2={pts(subModel2)} cf={pts(subCounterfactual)} />
      <Panel px={1844} py={292} {...f2} dots={monthly(pharyngitisPct)} m1={pts(pharyngitisModel1)} m2={pts(pharyngitisModel2)} cf={pts(pharyngitisCf)} />
      <Panel px={2427} py={292} {...f2} dots={monthly(sinusitisPct)} m1={pts(sinusitisModel1)} m2={pts(sinusitisModel2)} cf={pts(sinusitisCf)} />
      <Panel px={1844} py={652} {...f2} dots={monthly(bronchitisPct)} m1={pts(bronchitisModel1)} m2={pts(bronchitisModel2)} cf={pts(bronchitisCf)} />
      <Panel px={2427} py={652} {...f2} dots={monthly(viralUriPct)} m1={pts(viralUriModel1)} m2={pts(viralUriModel2)} cf={pts(viralUriCf)} />

      {legendLine(703, 241, 25, '#111', 3)}
      {legendLine(814, 241, 25, '#9d9d9d', 3)}
      {legendLine(2308, 237, 21, '#111', 3)}
      {legendLine(2405, 237, 21, '#9d9d9d', 3)}

      {texts.map((l, i) => <TextLine key={i} l={l} />)}

      <Rot cx={181} cy={516} deg={-90} len={285} l={{ t: 'Prescriptions/1,000 population', size: 20, font: CHART }} />
      <Rot cx={1754} cy={453} deg={-90} len={268} l={{ t: 'Prescriptions/100 visits', size: 22, font: CHART }} />
      <Rot cx={1754} cy={816} deg={-90} len={268} l={{ t: 'Prescriptions/100 visits', size: 22, font: CHART }} />
      <Rot cx={1514} cy={1012} deg={90} len={964} l={{ t: dl, size: 19, font: BODY, color: '#444' }} />
      <Rot cx={3080} cy={1012} deg={90} len={964} l={{ t: dl, size: 19, font: BODY, color: '#444' }} />
    </div>
  );
}
